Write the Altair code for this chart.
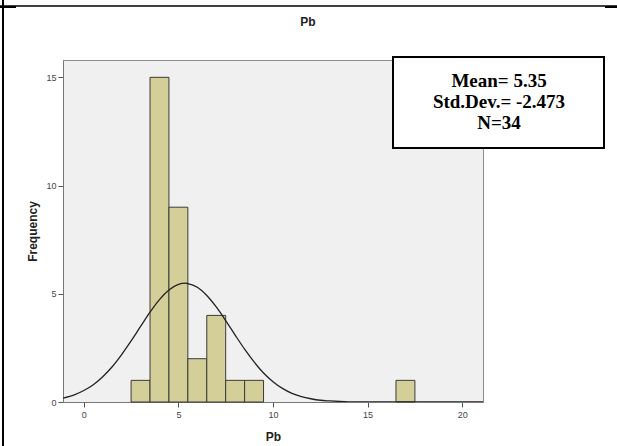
import altair as alt
import pandas as pd

# ---- data ----
bin_centers = [3, 4, 5, 6, 7, 8, 9, 17]
bin_counts = [1, 15, 9, 2, 4, 1, 1, 1]
bin_width = 1

curve_x = [-1.1, -0.5, 0, 0.5, 1, 1.5, 2, 2.5, 3, 3.5, 4, 4.5, 5, 5.35, 5.5, 6, 6.5, 7,
           7.5, 8, 8.5, 9, 9.5, 10, 10.5, 11, 11.5, 12, 12.5, 13, 14, 15, 16, 21.1]
curve_y = [0.18, 0.33, 0.53, 0.80, 1.17, 1.63, 2.19, 2.82, 3.49, 4.15, 4.73, 5.17, 5.43, 5.49,
           5.47, 5.30, 4.92, 4.39, 3.76, 3.09, 2.44, 1.85, 1.34, 0.94, 0.63, 0.40, 0.25, 0.15,
           0.08, 0.05, 0.01, 0.0, 0.0, 0.0]

stats_lines = ["Mean= 5.35", "Std.Dev.= -2.473", "N=34"]
x_ticks = [0, 5, 10, 15, 20]
y_ticks = [0, 5, 10, 15]

bars_df = pd.DataFrame({"center": bin_centers, "count": bin_counts})
bars_df["lo"] = bars_df["center"] - bin_width / 2
bars_df["hi"] = bars_df["center"] + bin_width / 2
curve_df = pd.DataFrame({"x": curve_x, "y": curve_y})
one = pd.DataFrame({"k": [0]})

W, H = 420, 342

xscale = alt.Scale(domain=[-1.1, 21.1], nice=False, zero=False)
yscale = alt.Scale(domain=[0, 15.8], nice=False)

bars = alt.Chart(bars_df).mark_bar(fill="#D4CF98", stroke="#3a3a3a", strokeWidth=1).encode(
    x=alt.X("lo:Q", scale=xscale,
            axis=alt.Axis(title="Pb", values=x_ticks, grid=False, tickSize=5,
                          labelFontSize=9, labelColor="#444", titleFontSize=12,
                          titleFontWeight="bold", titlePadding=12, domainColor="#777",
                          tickColor="#555", labelPadding=3)),
    x2="hi:Q",
    y=alt.Y("count:Q", scale=yscale,
            axis=alt.Axis(title="Frequency", values=y_ticks, grid=False, tickSize=5,
                          labelFontSize=9, labelColor="#444", titleFontSize=12,
                          titleFontWeight="bold", titlePadding=6, domainColor="#777",
                          tickColor="#555", labelPadding=2)),
    y2=alt.datum(0),
)

curve = alt.Chart(curve_df).mark_line(color="#222", strokeWidth=1.3, interpolate="monotone",
                                      clip=True).encode(
    x=alt.X("x:Q", scale=xscale),
    y=alt.Y("y:Q", scale=yscale),
)

box = alt.Chart(one).mark_rect(fill="white", stroke="black", strokeWidth=2).encode(
    x=alt.value(330), x2=alt.value(541), y=alt.value(-3), y2=alt.value(88)
)

box_text = alt.Chart(one).mark_text(
    font="Liberation Serif", fontWeight="bold", fontSize=19, lineBreak="\n",
    lineHeight=21, align="center", baseline="alphabetic", color="black"
).encode(x=alt.value(436), y=alt.value(27), text=alt.value("\n".join(stats_lines)))

title = alt.Chart(one).mark_text(
    font="Liberation Sans", fontWeight="bold", fontSize=12, align="center",
    baseline="middle", color="#222"
).encode(x=alt.value(245), y=alt.value(-38), text=alt.value("Pb"))

vline = alt.Chart(one).mark_rule(color="black", strokeWidth=2).encode(
    x=alt.value(-60), y=alt.value(-60), y2=alt.value(386)
)
hline = alt.Chart(one).mark_rule(color="black", strokeWidth=1.5).encode(
    x=alt.value(-63), x2=alt.value(554), y=alt.value(-54)
)
hleft = alt.Chart(one).mark_rule(color="black", strokeWidth=2).encode(
    x=alt.value(-63), x2=alt.value(-47), y=alt.value(-53)
)
hright = alt.Chart(one).mark_rule(color="black", strokeWidth=2).encode(
    x=alt.value(542), x2=alt.value(554), y=alt.value(-53)
)

chart = alt.layer(bars, curve, box, box_text, title, vline, hline, hleft, hright).properties(
    width=W, height=H,
    autosize=alt.AutoSizeParams(type="none"),
    padding={"left": 63, "top": 60, "right": 134, "bottom": 44},
    background="white",
).configure_view(
    fill="#F0F0F0", stroke="#8c8c8c", strokeWidth=1
).configure_axis(
    labelFont="Liberation Sans", titleFont="Liberation Sans", titleColor="#222"
)

chart.save("out.html", embed_options={"renderer": "svg", "actions": False})
